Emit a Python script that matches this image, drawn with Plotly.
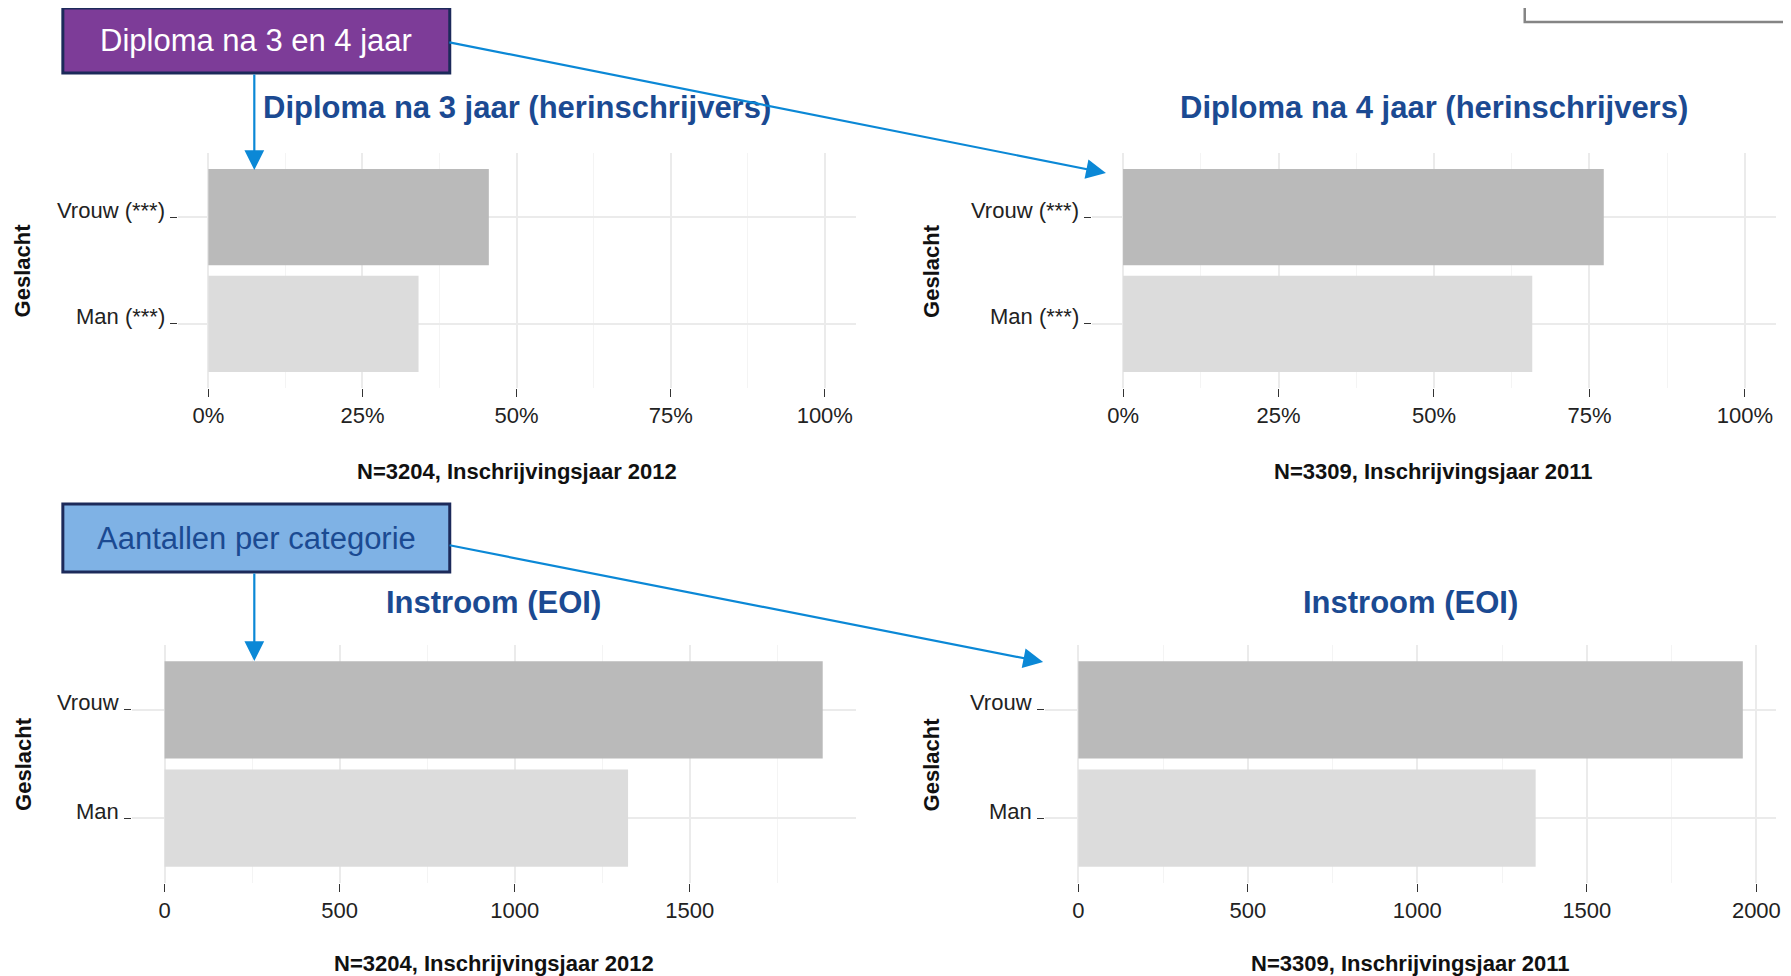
import plotly.graph_objects as go

W, H = 1791, 976
PAGE_MARGIN = 8  # default body margin of the page
FW, FH = W - PAGE_MARGIN, H - PAGE_MARGIN

# ---- data ----
genders = ["Man", "Vrouw"]
genders_sig = ["Man (***)", "Vrouw (***)"]
diploma3_share = [0.341, 0.455]      # Diploma na 3 jaar, inschrijvingsjaar 2012
diploma4_share = [0.658, 0.773]      # Diploma na 4 jaar, inschrijvingsjaar 2011
instroom_2012 = [1324, 1880]
instroom_2011 = [1349, 1960]
pct_ticks = [0, 0.25, 0.5, 0.75, 1.0]
pct_labels = ["0%", "25%", "50%", "75%", "100%"]
pct_minor = [0.125, 0.375, 0.625, 0.875]
cnt_ticks = [0, 500, 1000, 1500, 2000]
cnt_minor = [250, 750, 1250, 1750]
panel_titles = ["Diploma na 3 jaar (herinschrijvers)", "Diploma na 4 jaar (herinschrijvers)",
                "Instroom (EOI)", "Instroom (EOI)"]
panel_xtitles = ["N=3204, Inschrijvingsjaar 2012", "N=3309, Inschrijvingsjaar 2011",
                 "N=3204, Inschrijvingsjaar 2012", "N=3309, Inschrijvingsjaar 2011"]
box_labels = ["Diploma na 3 en 4 jaar", "Aantallen per categorie"]

bar_colors = ["#DCDCDC", "#BABABA"]
FONT = "Arial, Liberation Sans, sans-serif"
TITLE_BLUE = "#1B4A92"
ARROW = "#0B88D6"

def fx(x):
    return (x - PAGE_MARGIN) / FW

def fy(y):
    return 1 - (y - PAGE_MARGIN) / FH

# panel pixel boxes in window pixels: (x0, x1, y0, y1)
panels = [(178, 858, 153, 388), (1095, 1781, 153, 388),
          (132, 858, 645, 883), (1048, 1781, 645, 883)]

series = [(genders_sig, diploma3_share, "pct"), (genders_sig, diploma4_share, "pct"),
          (genders, instroom_2012, "cnt"), (genders, instroom_2011, "cnt")]

fig = go.Figure()
annotations = []
shapes = []

for i, ((x0, x1, y0, y1), (cats, vals, kind)) in enumerate(zip(panels, series)):
    n = i + 1
    xa = "x" if n == 1 else f"x{n}"
    ya = "y" if n == 1 else f"y{n}"
    fig.add_trace(go.Bar(
        x=vals, y=cats, orientation="h", width=0.9,
        marker=dict(color=bar_colors, line=dict(width=0)),
        xaxis=xa, yaxis=ya, showlegend=False, hoverinfo="x+y"))
    if kind == "pct":
        rng = [-0.05, 1.05]
        tv, tt, mv = pct_ticks, pct_labels, pct_minor
    else:
        m = max(vals)
        rng = [-0.05 * m, 1.05 * m]
        tv = [t for t in cnt_ticks if t <= rng[1]]
        tt = [str(t) for t in tv]
        mv = cnt_minor
    xkey = "xaxis" if n == 1 else f"xaxis{n}"
    ykey = "yaxis" if n == 1 else f"yaxis{n}"
    fig.update_layout(**{
        xkey: dict(domain=[fx(x0), fx(x1)], anchor=ya, range=rng,
                   tickvals=tv, ticktext=tt, ticks="outside", ticklen=8,
                   tickwidth=1.2, tickcolor="#333333",
                   tickfont=dict(family=FONT, size=22, color="#222222"),
                   showgrid=True, gridcolor="#EBEBEB", gridwidth=1.6,
                   zeroline=False, showline=False, fixedrange=True,
                   minor=dict(tickvals=mv, showgrid=True, gridcolor="#F4F4F4",
                              gridwidth=0.8, ticks="")),
        ykey: dict(domain=[fy(y1), fy(y0)], anchor=xa, type="category",
                   categoryorder="array", categoryarray=cats, range=[-0.6, 1.6],
                   ticks="outside", ticklen=7, tickwidth=1.4, tickcolor="#333333",
                   showticklabels=False,
                   showgrid=True, gridcolor="#EBEBEB", gridwidth=1.6,
                   zeroline=False, showline=False, fixedrange=True),
    })
    # category labels sit with their baseline on the tick (as in the original)
    for c in cats:
        annotations.append(dict(x=fx(x0 - 11), y=c, xref="paper", yref=ya,
                                text=c, showarrow=False, xanchor="right",
                                yanchor="middle", yshift=7,
                                font=dict(family=FONT, size=22, color="#222222")))
    cx = (x0 + x1) / 2
    ty = 108 if n <= 2 else 602
    annotations.append(dict(x=fx(cx), y=fy(ty), xref="paper", yref="paper",
                            text=f"<b>{panel_titles[i]}</b>", showarrow=False,
                            xanchor="center", yanchor="middle",
                            font=dict(family=FONT, size=31, color=TITLE_BLUE)))
    nty = 472 if n <= 2 else 963
    annotations.append(dict(x=fx(cx), y=fy(nty), xref="paper", yref="paper",
                            text=f"<b>{panel_xtitles[i]}</b>", showarrow=False,
                            xanchor="center", yanchor="middle",
                            font=dict(family=FONT, size=22, color="#111111")))
    gx = 23 if n in (1, 3) else 934
    gy = (y0 + y1) / 2
    annotations.append(dict(x=fx(gx), y=fy(gy), xref="paper", yref="paper",
                            text="<b>Geslacht</b>", showarrow=False, textangle=-90,
                            xanchor="center", yanchor="middle",
                            font=dict(family=FONT, size=22, color="#111111")))

# callout boxes
boxes = [((63, 451, 8, 73), "#7D3C98", "#FFFFFF"),
         ((63, 451, 504, 572), "#7FB2E5", "#1B4A92")]
for ((bx0, bx1, by0, by1), fill, tcol), label in zip(boxes, box_labels):
    shapes.append(dict(type="rect", xref="paper", yref="paper",
                       x0=fx(bx0), x1=fx(bx1), y0=fy(by1), y1=fy(by0),
                       fillcolor=fill, line=dict(color="#1C2A5A", width=3), layer="above"))
    annotations.append(dict(x=fx((bx0 + bx1) / 2), y=fy((by0 + by1) / 2),
                            xref="paper", yref="paper", text=label, showarrow=False,
                            xanchor="center", yanchor="middle",
                            font=dict(family=FONT, size=31, color=tcol)))

# partial grey frame top right
shapes.append(dict(type="rect", xref="paper", yref="paper",
                   x0=fx(1529), x1=fx(1810), y0=fy(22), y1=fy(-10),
                   fillcolor="rgba(0,0,0,0)", line=dict(color="#858585", width=2.5)))

# arrows: (tail_x, tail_y, tip_x, tip_y) in window pixels
arrows = [(255, 73, 255, 170), (451, 42, 1109, 173),
          (255, 572, 255, 661), (451, 545, 1046, 662)]
for tx, tyy, hx, hy in arrows:
    annotations.append(dict(x=fx(hx), y=fy(hy), xref="paper", yref="paper",
                            ax=tx - hx, ay=tyy - hy, axref="pixel", ayref="pixel",
                            text="", showarrow=True, arrowhead=2, arrowsize=1.8,
                            arrowwidth=2.2, arrowcolor=ARROW, standoff=0))

fig.update_layout(width=FW, height=FH, autosize=False,
                  margin=dict(l=0, r=0, t=0, b=0),
                  paper_bgcolor="white", plot_bgcolor="white",
                  bargap=0.1, annotations=annotations, shapes=shapes,
                  font=dict(family=FONT))

fig.write_html("out.html")
